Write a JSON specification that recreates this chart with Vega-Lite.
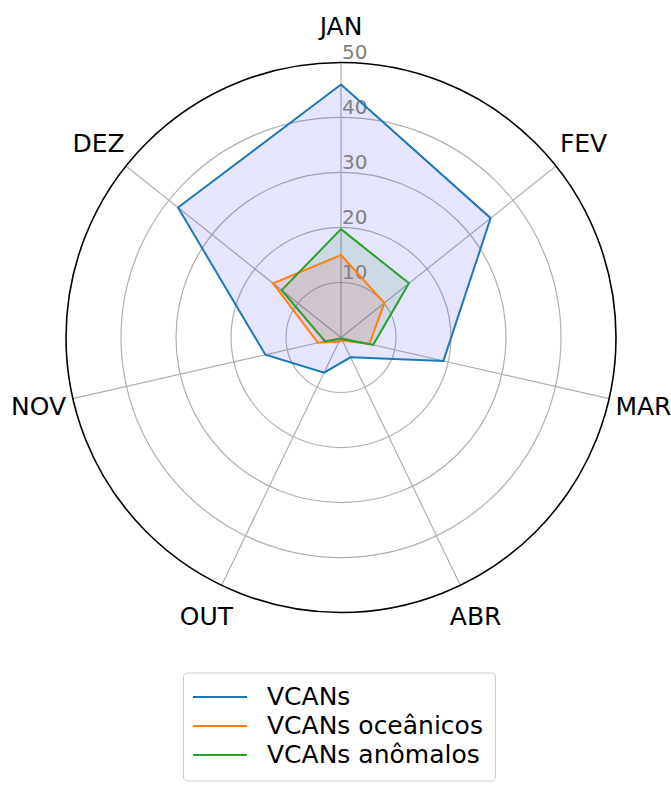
{
  "$schema": "https://vega.github.io/schema/vega-lite/v6.json",
  "width": 550,
  "height": 550,
  "autosize": "none",
  "padding": {"left": 66, "top": 62.5, "right": 55, "bottom": 172.5},
  "background": "white",
  "config": {"view": {"stroke": null}, "font": "DejaVu Sans"},
  "datasets": {
    "months": [
      {"month": "JAN", "idx": 0},
      {"month": "FEV", "idx": 1},
      {"month": "MAR", "idx": 2},
      {"month": "ABR", "idx": 3},
      {"month": "OUT", "idx": 4},
      {"month": "NOV", "idx": 5},
      {"month": "DEZ", "idx": 6}
    ],
    "series": [
      {"series": "VCANs", "month": "JAN", "idx": 0, "value": 46.0},
      {"series": "VCANs", "month": "FEV", "idx": 1, "value": 34.8},
      {"series": "VCANs", "month": "MAR", "idx": 2, "value": 19.1},
      {"series": "VCANs", "month": "ABR", "idx": 3, "value": 4.0},
      {"series": "VCANs", "month": "OUT", "idx": 4, "value": 7.1},
      {"series": "VCANs", "month": "NOV", "idx": 5, "value": 14.1},
      {"series": "VCANs", "month": "DEZ", "idx": 6, "value": 37.9},
      {"series": "VCANs oceânicos", "month": "JAN", "idx": 0, "value": 15.0},
      {"series": "VCANs oceânicos", "month": "FEV", "idx": 1, "value": 10.1},
      {"series": "VCANs oceânicos", "month": "MAR", "idx": 2, "value": 5.3},
      {"series": "VCANs oceânicos", "month": "ABR", "idx": 3, "value": 0.6},
      {"series": "VCANs oceânicos", "month": "OUT", "idx": 4, "value": 0.8},
      {"series": "VCANs oceânicos", "month": "NOV", "idx": 5, "value": 4.3},
      {"series": "VCANs oceânicos", "month": "DEZ", "idx": 6, "value": 15.8},
      {"series": "VCANs anômalos", "month": "JAN", "idx": 0, "value": 19.7},
      {"series": "VCANs anômalos", "month": "FEV", "idx": 1, "value": 15.8},
      {"series": "VCANs anômalos", "month": "MAR", "idx": 2, "value": 6.0},
      {"series": "VCANs anômalos", "month": "ABR", "idx": 3, "value": 0.3},
      {"series": "VCANs anômalos", "month": "OUT", "idx": 4, "value": 0.3},
      {"series": "VCANs anômalos", "month": "NOV", "idx": 5, "value": 3.0},
      {"series": "VCANs anômalos", "month": "DEZ", "idx": 6, "value": 13.8}
    ],
    "grid": [{"r": 10}, {"r": 20}, {"r": 30}, {"r": 40}],
    "outer": [{"r": 50}],
    "ticks": [{"t": 10}, {"t": 20}, {"t": 30}, {"t": 40}, {"t": 50}]
  },
  "layer": [
    {
      "data": {"name": "grid"},
      "mark": {"type": "point", "shape": "circle", "filled": false, "stroke": "#b0b0b0", "strokeWidth": 1.2, "opacity": 1},
      "encoding": {
        "x": {"datum": 0, "type": "quantitative", "scale": {"domain": [-50, 50], "nice": false, "zero": false}, "axis": null},
        "y": {"datum": 0, "type": "quantitative", "scale": {"domain": [-50, 50], "nice": false, "zero": false}, "axis": null},
        "size": {"field": "r", "type": "quantitative", "scale": {"type": "pow", "exponent": 2, "domain": [0, 50], "range": [0, 302500], "zero": true}, "legend": null}
      }
    },
    {
      "data": {"name": "months"},
      "transform": [
        {"calculate": "50*sin(datum.idx*2*PI/7)", "as": "ex"},
        {"calculate": "50*cos(datum.idx*2*PI/7)", "as": "ey"}
      ],
      "mark": {"type": "rule", "stroke": "#b0b0b0", "strokeWidth": 1.2},
      "encoding": {
        "x": {"field": "ex", "type": "quantitative"},
        "y": {"field": "ey", "type": "quantitative"},
        "x2": {"datum": 0},
        "y2": {"datum": 0}
      }
    },
    {
      "data": {"name": "series"},
      "transform": [
        {"filter": "datum.series === 'VCANs'"},
        {"calculate": "datum.value*sin(datum.idx*2*PI/7)", "as": "px"},
        {"calculate": "datum.value*cos(datum.idx*2*PI/7)", "as": "py"}
      ],
      "mark": {"type": "line", "interpolate": "linear-closed", "fill": "#0000ff", "fillOpacity": 0.1, "stroke": null, "strokeWidth": 0},
      "encoding": {
        "x": {"field": "px", "type": "quantitative"},
        "y": {"field": "py", "type": "quantitative"},
        "order": {"field": "idx", "type": "quantitative"}
      }
    },
    {
      "data": {"name": "series"},
      "transform": [
        {"filter": "datum.series === 'VCANs oceânicos'"},
        {"calculate": "datum.value*sin(datum.idx*2*PI/7)", "as": "px"},
        {"calculate": "datum.value*cos(datum.idx*2*PI/7)", "as": "py"}
      ],
      "mark": {"type": "line", "interpolate": "linear-closed", "fill": "#ff0000", "fillOpacity": 0.1, "stroke": null, "strokeWidth": 0},
      "encoding": {
        "x": {"field": "px", "type": "quantitative"},
        "y": {"field": "py", "type": "quantitative"},
        "order": {"field": "idx", "type": "quantitative"}
      }
    },
    {
      "data": {"name": "series"},
      "transform": [
        {"filter": "datum.series === 'VCANs anômalos'"},
        {"calculate": "datum.value*sin(datum.idx*2*PI/7)", "as": "px"},
        {"calculate": "datum.value*cos(datum.idx*2*PI/7)", "as": "py"}
      ],
      "mark": {"type": "line", "interpolate": "linear-closed", "fill": "#008000", "fillOpacity": 0.1, "stroke": null, "strokeWidth": 0},
      "encoding": {
        "x": {"field": "px", "type": "quantitative"},
        "y": {"field": "py", "type": "quantitative"},
        "order": {"field": "idx", "type": "quantitative"}
      }
    },
    {
      "data": {"name": "outer"},
      "mark": {"type": "point", "shape": "circle", "filled": false, "stroke": "black", "strokeWidth": 1.6, "opacity": 1},
      "encoding": {
        "x": {"datum": 0, "type": "quantitative"},
        "y": {"datum": 0, "type": "quantitative"},
        "size": {"field": "r", "type": "quantitative", "legend": null}
      }
    },
    {
      "data": {"name": "ticks"},
      "mark": {"type": "text", "align": "left", "baseline": "middle", "dx": 1, "dy": -10, "fontSize": 20, "color": "#808080", "font": "DejaVu Sans"},
      "encoding": {
        "x": {"datum": 0, "type": "quantitative"},
        "y": {"field": "t", "type": "quantitative"},
        "text": {"field": "t", "type": "quantitative"}
      }
    },
    {
      "data": {"name": "months"},
      "transform": [
        {"calculate": "56.4*sin(datum.idx*2*PI/7)", "as": "lx"},
        {"calculate": "56.4*cos(datum.idx*2*PI/7)", "as": "ly"}
      ],
      "mark": {"type": "text", "align": "center", "baseline": "middle", "fontSize": 25, "color": "black", "font": "DejaVu Sans"},
      "encoding": {
        "x": {"field": "lx", "type": "quantitative"},
        "y": {"field": "ly", "type": "quantitative"},
        "text": {"field": "month", "type": "nominal"}
      }
    },
    {
      "data": {"name": "series"},
      "transform": [
        {"calculate": "datum.value*sin(datum.idx*2*PI/7)", "as": "px"},
        {"calculate": "datum.value*cos(datum.idx*2*PI/7)", "as": "py"}
      ],
      "mark": {"type": "line", "interpolate": "linear-closed", "strokeWidth": 2},
      "encoding": {
        "x": {"field": "px", "type": "quantitative"},
        "y": {"field": "py", "type": "quantitative"},
        "order": {"field": "idx", "type": "quantitative"},
        "color": {
          "field": "series", "type": "nominal", "sort": null,
          "scale": {"domain": ["VCANs", "VCANs oceânicos", "VCANs anômalos"], "range": ["#1f77b4", "#ff7f0e", "#2ca02c"]},
          "legend": {
            "orient": "none", "legendX": 117, "legendY": 610, "direction": "vertical", "title": null,
            "symbolType": "M-1.45,0L3.95,0", "symbolSize": 400, "symbolStrokeWidth": 2,
            "labelFontSize": 25, "labelColor": "black", "labelOffset": 47, "labelLimit": 400,
            "rowPadding": 3,
            "padding": 12, "strokeColor": "#cccccc", "fillColor": "white", "cornerRadius": 4
          }
        }
      }
    }
  ]
}
